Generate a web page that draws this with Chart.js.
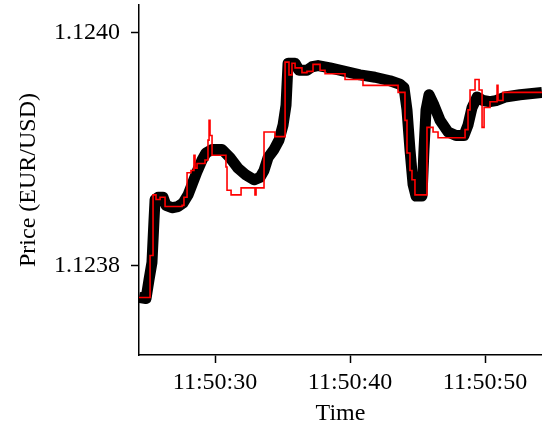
<!DOCTYPE html>
<html>
<head>
<meta charset="utf-8">
<script src="https://cdn.jsdelivr.net/npm/chart.js@4.4.1/dist/chart.umd.min.js"></script>
<style>
  html, body { margin: 0; padding: 0; background: #fff; }
  #wrap { width: 542px; height: 428px; position: relative; }
</style>
</head>
<body>
<div id="wrap"><canvas id="myChart"></canvas></div>
<script>
// seconds after 11:50:00
const midTimes = [24.37, 24.89, 25.11, 25.33, 25.48, 25.56, 25.78, 26.15, 26.37, 26.81,
  27.26, 27.63, 28.00, 28.30, 28.67, 29.04, 29.33, 29.78, 30.52, 31.11,
  31.70, 32.30, 32.89, 33.33, 33.63, 33.93, 34.37, 34.74, 35.04, 35.26,
  35.41, 35.93, 36.22, 36.81, 37.19, 37.63, 38.52, 39.63, 40.74, 41.85,
  42.96, 43.70, 44.00, 44.22, 44.44, 44.67, 44.89, 45.33, 45.48, 45.63,
  45.85, 46.22, 46.67, 47.26, 47.85, 48.44, 48.74, 49.04, 49.41, 49.85,
  50.37, 50.81, 51.48, 52.59, 54.22];
const midPrices = [1.123773, 1.123772, 1.123788, 1.123803, 1.123839, 1.123857, 1.123859, 1.123859, 1.123852, 1.123850,
  1.123851, 1.123854, 1.123861, 1.123870, 1.123881, 1.123891, 1.123897, 1.123900, 1.123900, 1.123893,
  1.123884, 1.123878, 1.123874, 1.123876, 1.123882, 1.123893, 1.123900, 1.123908, 1.123921, 1.123938,
  1.123974, 1.123974, 1.123968, 1.123968, 1.123971, 1.123972, 1.123970, 1.123967, 1.123964, 1.123962,
  1.123959, 1.123956, 1.123953, 1.123934, 1.123900, 1.123870, 1.123860, 1.123860, 1.123900, 1.123934,
  1.123947, 1.123938, 1.123925, 1.123915, 1.123912, 1.123912, 1.123921, 1.123936, 1.123945, 1.123942,
  1.123941, 1.123942, 1.123945, 1.123947, 1.123949];

const tradeTimes = [24.37, 25.19, 25.41, 25.63, 25.93, 26.30, 27.56, 27.70, 27.93, 28.22,
  28.44, 28.52, 28.67, 29.26, 29.48, 29.56, 29.63, 29.78, 30.81, 30.89,
  31.19, 31.93, 32.96, 33.04, 33.63, 34.44, 35.19, 35.48, 35.70, 35.93,
  36.44, 36.81, 37.26, 37.78, 38.15, 39.63, 40.96, 43.56, 44.07, 44.22,
  44.44, 44.59, 44.81, 45.70, 46.15, 46.52, 48.52, 48.74, 48.89, 49.26,
  49.56, 49.78, 49.93, 50.37, 50.89, 50.96, 51.33, 54.22];
const tradePrices = [1.123773, 1.123809, 1.123861, 1.123857, 1.123859, 1.123851, 1.123852, 1.123859, 1.123880, 1.123882,
  1.123895, 1.123884, 1.123888, 1.123891, 1.123908, 1.123925, 1.123912, 1.123895, 1.123885, 1.123865,
  1.123861, 1.123867, 1.123861, 1.123867, 1.123915, 1.123911, 1.123975, 1.123964, 1.123974, 1.123970,
  1.123966, 1.123967, 1.123973, 1.123968, 1.123965, 1.123960, 1.123955, 1.123949, 1.123925, 1.123897,
  1.123882, 1.123874, 1.123861, 1.123919, 1.123915, 1.123910, 1.123917, 1.123934, 1.123951, 1.123960,
  1.123951, 1.123919, 1.123936, 1.123941, 1.123955, 1.123942, 1.123949, 1.123949];

const yTicks = [1.1238, 1.1240];
const xTicks = [30, 40, 50];

Chart.defaults.font.family = "'Liberation Serif', 'Times New Roman', serif";
Chart.defaults.font.size = 24;
Chart.defaults.color = '#000';

const ctx = document.getElementById('myChart').getContext('2d');
new Chart(ctx, {
    type: 'line',
    data: {
        datasets: [{
                label: 'Trades',
                data: tradeTimes.map((t, i) => ({x: t, y: tradePrices[i]})),
                borderColor: '#ff0000',
                borderWidth: 1.6,
                stepped: 'before',
                pointRadius: 0,
                fill: false
            },
            {
                label: 'Mid',
                data: midTimes.map((t, i) => ({x: t, y: midPrices[i]})),
                borderColor: '#000',
                borderWidth: 11,
                borderJoinStyle: 'round',
                pointRadius: 0,
                tension: 0,
                fill: false
            }
        ]
    },
    options: {
        responsive: true,
        maintainAspectRatio: false,
        animation: false,
        layout: {padding: {top: 5, right: 0, left: 0, bottom: 0}},
        plugins: {
            legend: {display: false},
            tooltip: {enabled: false}
        },
        scales: {
            x: {
                type: 'linear',
                min: 24.37,
                max: 54.22,
                afterFit: function (scale) {
                    scale.height = 73;
                    scale.paddingLeft = 0;
                    scale.paddingRight = 0;
                },
                afterBuildTicks: function (scale) { scale.ticks = xTicks.map(v => ({value: v})); },
                ticks: {
                    padding: 5,
                    maxRotation: 0,
                    callback: function (v) { return '11:50:' + v; }
                },
                grid: {drawOnChartArea: false, tickLength: 8, tickWidth: 1.5, color: '#000'},
                border: {display: true, color: '#000', width: 1.5},
                title: {display: true, text: 'Time', padding: {top: 0, bottom: 0}}
            },
            y: {
                min: 1.1237236,
                max: 1.124024,
                afterFit: function (scale) {
                    scale.width = 139;
                    scale.paddingTop = 0;
                    scale.paddingBottom = 0;
                },
                afterBuildTicks: function (scale) { scale.ticks = yTicks.map(v => ({value: v})); },
                ticks: {
                    padding: 11,
                    callback: function (v) { return v.toFixed(4); }
                },
                grid: {drawOnChartArea: false, tickLength: 8, tickWidth: 1.5, color: '#000'},
                border: {display: true, color: '#000', width: 1.5},
                title: {display: true, text: 'Price (EUR/USD)', padding: {top: 14, bottom: 0}}
            }
        }
    }
});
</script>
</body>
</html>
